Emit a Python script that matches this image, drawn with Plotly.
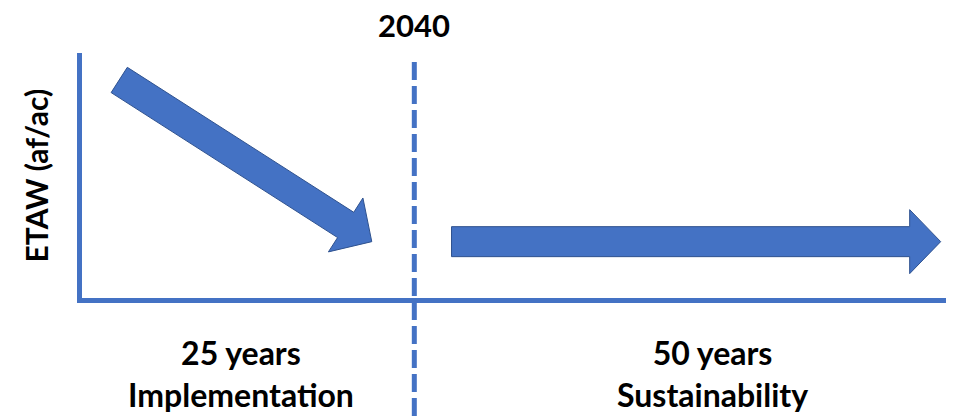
import math
import plotly.graph_objects as go

# --- timeline data -------------------------------------------------------
milestone_year = 2040
phase_durations = ["25 years", "50 years"]
phase_names = ["Implementation", "Sustainability"]

# ETAW trend during implementation (declining) and sustainability (flat)
decline_years = [2017.8, 2036.8]
decline_etaw = [8.9, 2.3]
sustain_years = [2042.8, 2079.6]
sustain_etaw = [2.3, 2.3]

# --- layout constants ----------------------------------------------------
W, H = 960, 420
M_L, M_R, M_T, M_B = 82, 14, 53, 122
X_RANGE = [2015, 2080]
Y_RANGE = [0, 10]
BLUE = "#4472C4"
EDGE = "#2F528F"
FONT = "Lato"

plot_w = W - M_L - M_R
plot_h = H - M_T - M_B
sx = plot_w / (X_RANGE[1] - X_RANGE[0])   # px per year
sy = plot_h / (Y_RANGE[1] - Y_RANGE[0])   # px per ETAW unit


def block_arrow(xs, ys, shaft=30, head_w=64, head_len=31):
    """Return polygon (in data units) for a block arrow from first to last point."""
    # work in screen-proportional units so the arrow keeps its shape
    x0, y0 = xs[0] * sx, ys[0] * sy
    x1, y1 = xs[1] * sx, ys[1] * sy
    dx, dy = x1 - x0, y1 - y0
    L = math.hypot(dx, dy)
    ux, uy = dx / L, dy / L
    nx, ny = -uy, ux
    bx, by = x1 - ux * head_len, y1 - uy * head_len
    hs, hh = shaft / 2, head_w / 2
    pts = [
        (x0 + nx * hs, y0 + ny * hs),
        (bx + nx * hs, by + ny * hs),
        (bx + nx * hh, by + ny * hh),
        (x1, y1),
        (bx - nx * hh, by - ny * hh),
        (bx - nx * hs, by - ny * hs),
        (x0 - nx * hs, y0 - ny * hs),
        (x0 + nx * hs, y0 + ny * hs),
    ]
    return [p[0] / sx for p in pts], [p[1] / sy for p in pts]


fig = go.Figure()

for xs, ys in [(decline_years, decline_etaw), (sustain_years, sustain_etaw)]:
    px, py = block_arrow(xs, ys)
    fig.add_trace(go.Scatter(
        x=px, y=py, mode="lines", fill="toself",
        fillcolor=BLUE, line=dict(color=EDGE, width=1),
        hoverinfo="skip", showlegend=False,
    ))

# milestone divider
fig.add_shape(
    type="line", xref="x", yref="paper",
    x0=milestone_year, x1=milestone_year,
    y0=(plot_h - 9) / plot_h, y1=-(M_B / plot_h),
    line=dict(color=BLUE, width=5, dash="18px,6px"),
    layer="above",
)

fig.add_annotation(
    x=milestone_year, xref="x", y=1 + 28 / plot_h, yref="paper",
    text=str(milestone_year), showarrow=False,
    font=dict(family=FONT, size=31, color="black", weight="bold"),
    xanchor="center", yanchor="middle",
)

# y-axis title
fig.add_annotation(
    x=(35 - M_L) / plot_w, xref="paper", y=0.5, yref="paper",
    text="ETAW (af/ac)", textangle=-90, showarrow=False,
    font=dict(family=FONT, size=30, color="black", weight="bold"),
    xanchor="center", yanchor="middle",
)

# phase labels (duration over name)
label_px = [241, 712]
for i in range(2):
    fig.add_annotation(
        x=(label_px[i] - M_L) / plot_w, xref="paper",
        y=(M_T + plot_h - 373) / plot_h, yref="paper",
        text=f"{phase_durations[i]}<br>{phase_names[i]}", showarrow=False,
        font=dict(family=FONT, size=32, color="black", weight="bold"),
        xanchor="center", yanchor="middle", align="center",
    )

axis_style = dict(
    showline=True, linecolor=BLUE, linewidth=5,
    showgrid=False, zeroline=False, showticklabels=False, ticks="",
    fixedrange=True,
)
fig.update_xaxes(range=X_RANGE, **axis_style)
fig.update_yaxes(range=Y_RANGE, **axis_style)

fig.update_layout(
    width=W, height=H,
    margin=dict(l=M_L, r=M_R, t=M_T, b=M_B, autoexpand=False),
    paper_bgcolor="white", plot_bgcolor="white",
    showlegend=False,
)

fig.write_html("out.html")
